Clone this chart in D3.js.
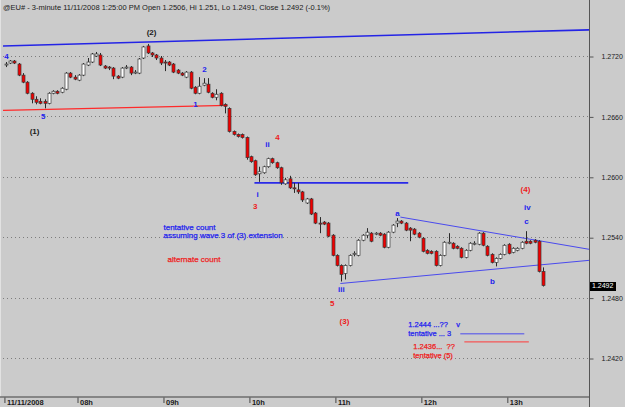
<!DOCTYPE html>
<html>
<head>
<meta charset="utf-8">
<script src="https://cdn.jsdelivr.net/npm/d3@7"></script>
<style>
  body { margin: 0; background: #cbcbcb; }
  svg { display: block; }
  text { font-family: "Liberation Sans", Arial, sans-serif; }
</style>
</head>
<body>
<svg id="chart" width="625" height="407"></svg>
<script>
// @EU# 3-minute bars, 11/11/2008 -- Elliott wave count

var tradeDate = "2008-11-11";
var firstBarTime = "07:10:00";
var barMinutes = 3;

var opens = [
  1.2711, 1.2713, 1.2715, 1.2712, 1.2701, 1.2694, 1.2683, 1.2677, 1.2675, 1.2675,
  1.2673, 1.2683, 1.2685, 1.2684, 1.2687, 1.2703, 1.2699, 1.2696, 1.2701, 1.2711,
  1.2714, 1.2720, 1.2721, 1.2710, 1.2709, 1.2708, 1.2700, 1.2699, 1.2708, 1.2709,
  1.2703, 1.2703, 1.2718, 1.2730, 1.2723, 1.2721, 1.2718, 1.2714, 1.2714, 1.2712,
  1.2706, 1.2703, 1.2699, 1.2704, 1.2689, 1.2683, 1.2691, 1.2692, 1.2683, 1.2679,
  1.2683, 1.2672, 1.2668, 1.2645, 1.2642, 1.2642, 1.2639, 1.2620, 1.2616, 1.2603,
  1.2604, 1.2610, 1.2618, 1.2614, 1.2609, 1.2593, 1.2598, 1.2589, 1.2587, 1.2585,
  1.2574, 1.2578, 1.2564, 1.2554, 1.2555, 1.2554, 1.2542, 1.2522, 1.2512, 1.2504,
  1.2512, 1.2523, 1.2522, 1.2537, 1.2542, 1.2544, 1.2543, 1.2544, 1.2543, 1.2530,
  1.2545, 1.2554, 1.2556, 1.2554, 1.2549, 1.2548, 1.2544, 1.2539, 1.2527, 1.2526,
  1.2526, 1.2512, 1.2522, 1.2534, 1.2534, 1.2531, 1.2529, 1.2520, 1.2527, 1.2533,
  1.2533, 1.2544, 1.2531, 1.2523, 1.2515, 1.2519, 1.2523, 1.2533, 1.2525, 1.2527,
  1.2529, 1.2536, 1.2536, 1.2537, 1.2536, 1.2506
];

var highs = [
  1.2714, 1.2716, 1.2716, 1.2713, 1.2703, 1.2695, 1.2684, 1.2680, 1.2678, 1.2677,
  1.2684, 1.2686, 1.2686, 1.2689, 1.2704, 1.2704, 1.2701, 1.2702, 1.2713, 1.2718,
  1.2723, 1.2724, 1.2723, 1.2711, 1.2710, 1.2709, 1.2701, 1.2709, 1.2711, 1.2710,
  1.2706, 1.2718, 1.2730, 1.2732, 1.2724, 1.2722, 1.2720, 1.2716, 1.2715, 1.2713,
  1.2707, 1.2704, 1.2705, 1.2705, 1.2690, 1.2699, 1.2698, 1.2698, 1.2684, 1.2687,
  1.2684, 1.2673, 1.2669, 1.2646, 1.2643, 1.2643, 1.2640, 1.2621, 1.2617, 1.2610,
  1.2611, 1.2619, 1.2619, 1.2615, 1.2610, 1.2599, 1.2601, 1.2594, 1.2594, 1.2586,
  1.2579, 1.2579, 1.2565, 1.2560, 1.2556, 1.2555, 1.2543, 1.2523, 1.2513, 1.2513,
  1.2523, 1.2526, 1.2538, 1.2543, 1.2549, 1.2545, 1.2545, 1.2545, 1.2544, 1.2546,
  1.2553, 1.2559, 1.2557, 1.2555, 1.2550, 1.2549, 1.2545, 1.2540, 1.2528, 1.2527,
  1.2527, 1.2523, 1.2536, 1.2544, 1.2535, 1.2532, 1.2530, 1.2528, 1.2535, 1.2536,
  1.2545, 1.2545, 1.2532, 1.2524, 1.2520, 1.2524, 1.2533, 1.2534, 1.2530, 1.2530,
  1.2536, 1.2546, 1.2537, 1.2538, 1.2537, 1.2510
];

var lows = [
  1.2709, 1.2712, 1.2712, 1.2700, 1.2693, 1.2682, 1.2673, 1.2672, 1.2672, 1.2668,
  1.2672, 1.2682, 1.2682, 1.2683, 1.2686, 1.2698, 1.2696, 1.2695, 1.2700, 1.2710,
  1.2713, 1.2719, 1.2710, 1.2707, 1.2706, 1.2697, 1.2697, 1.2698, 1.2707, 1.2701,
  1.2702, 1.2702, 1.2717, 1.2722, 1.2719, 1.2716, 1.2711, 1.2705, 1.2710, 1.2703,
  1.2702, 1.2700, 1.2698, 1.2687, 1.2682, 1.2682, 1.2690, 1.2683, 1.2678, 1.2676,
  1.2670, 1.2663, 1.2644, 1.2641, 1.2639, 1.2638, 1.2617, 1.2614, 1.2601, 1.2595,
  1.2603, 1.2609, 1.2613, 1.2608, 1.2592, 1.2592, 1.2588, 1.2584, 1.2583, 1.2575,
  1.2573, 1.2562, 1.2553, 1.2544, 1.2552, 1.2540, 1.2521, 1.2511, 1.2496, 1.2498,
  1.2511, 1.2521, 1.2521, 1.2536, 1.2539, 1.2535, 1.2542, 1.2541, 1.2529, 1.2529,
  1.2544, 1.2550, 1.2553, 1.2546, 1.2536, 1.2542, 1.2539, 1.2525, 1.2523, 1.2523,
  1.2511, 1.2511, 1.2521, 1.2533, 1.2528, 1.2528, 1.2519, 1.2519, 1.2526, 1.2532,
  1.2532, 1.2531, 1.2521, 1.2514, 1.2511, 1.2518, 1.2522, 1.2523, 1.2524, 1.2526,
  1.2528, 1.2533, 1.2533, 1.2534, 1.2505, 1.2491
];

var closes = [
  1.2712, 1.2715, 1.2713, 1.2701, 1.2694, 1.2683, 1.2677, 1.2674, 1.2673, 1.2673,
  1.2683, 1.2685, 1.2683, 1.2688, 1.2703, 1.2699, 1.2697, 1.2701, 1.2712, 1.2714,
  1.2722, 1.2722, 1.2711, 1.2708, 1.2708, 1.2700, 1.2698, 1.2708, 1.2709, 1.2703,
  1.2704, 1.2717, 1.2729, 1.2723, 1.2721, 1.2718, 1.2713, 1.2713, 1.2711, 1.2704,
  1.2703, 1.2701, 1.2704, 1.2688, 1.2683, 1.2690, 1.2693, 1.2684, 1.2679, 1.2682,
  1.2671, 1.2670, 1.2645, 1.2642, 1.2640, 1.2639, 1.2619, 1.2615, 1.2602, 1.2605,
  1.2610, 1.2618, 1.2614, 1.2609, 1.2594, 1.2597, 1.2589, 1.2588, 1.2585, 1.2577,
  1.2578, 1.2563, 1.2554, 1.2553, 1.2553, 1.2541, 1.2522, 1.2512, 1.2503, 1.2512,
  1.2522, 1.2524, 1.2537, 1.2542, 1.2545, 1.2536, 1.2544, 1.2542, 1.2530, 1.2545,
  1.2552, 1.2556, 1.2554, 1.2547, 1.2547, 1.2543, 1.2540, 1.2526, 1.2524, 1.2524,
  1.2512, 1.2522, 1.2535, 1.2535, 1.2529, 1.2529, 1.2520, 1.2527, 1.2534, 1.2534,
  1.2544, 1.2532, 1.2522, 1.2515, 1.2519, 1.2523, 1.2532, 1.2524, 1.2529, 1.2529,
  1.2535, 1.2534, 1.2534, 1.2535, 1.2506, 1.2492
];

var priceTicks = [1.2420, 1.2480, 1.2540, 1.2600, 1.2660, 1.2720];
var hourTicks = ["07:09:00", "08:00:00", "09:00:00", "10:00:00", "11:00:00", "12:00:00", "13:00:00"];
var titleText = "@EU# - 3-minute 11/11/2008 1:25:00 PM Open 1.2506, Hi 1.251, Lo 1.2491, Close 1.2492 (-0.1%)";

// trend lines: [time, price] -> [time, price]
var upperChannel = [["07:08:00", 1.2730], ["13:57:00", 1.2746]];
var lowerChannel = [["07:08:00", 1.2666], ["09:44:40", 1.2671]];
var waveOneLine = [["10:03:30", 1.2594], ["11:50:50", 1.2594]];
var triangleTop = [["11:45:20", 1.2560], ["13:57:00", 1.2528]];
var triangleBottom = [["11:03:30", 1.2494], ["13:57:00", 1.2517]];
var targetBlue = [["12:27:10", 1.2444], ["13:11:50", 1.2444]];
var targetRed = [["12:30:00", 1.2436], ["13:15:00", 1.2436]];

// wave labels: [text, time, price]
var blueMarks = [
  ["4", "07:10:30", 1.2720], ["5", "07:36:00", 1.2660], ["2", "09:28:40", 1.2707],
  ["1", "09:22:20", 1.2672], ["ii", "10:12:40", 1.2632], ["i", "10:05:40", 1.2583],
  ["a", "11:43:20", 1.2564], ["iv", "13:14:00", 1.2570], ["c", "13:13:20", 1.2556],
  ["iii", "11:04:10", 1.2488], ["b", "12:49:40", 1.2496]
];
var redMarks = [
  ["4", "10:19:30", 1.2639], ["3", "10:04:00", 1.2571], ["(4)", "13:12:40", 1.2588],
  ["5", "10:57:50", 1.2474], ["(3)", "11:06:20", 1.2457]
];
var darkMarks = [["(1)", "07:30:00", 1.2645], ["(2)", "08:51:40", 1.2744]];

var blueNotes = [
  ["tentative count", "09:00:00", 1.2550],
  ["assuming wave 3 of (3) extension", "09:00:00", 1.2542]
];
var blueTargetNotes = [
  ["1.2444 ...??    v", "11:50:50", 1.2453],
  ["tentative ... 3", "11:50:50", 1.2444]
];
var redNotes = [
  ["alternate count", "09:02:50", 1.2518]
];
var redTargetNotes = [
  ["1.2436...  ??", "11:54:20", 1.2432],
  ["tentative (5)", "11:54:20", 1.2423]
];

///////////////////////////////////////////////////////////////////////////////
// scales

var parseTime = d3.timeParse("%Y-%m-%d %H:%M:%S");
var at = function (s) { return parseTime(tradeDate + " " + s); };

var plotLeft = 3, plotRight = 589, axisY = 397;
var BLUE = "#2222ee", RED = "#ee1c1c", DARK = "#1a1a1a";

var x = d3.scaleTime()
  .domain([at("07:08:00"), at("13:57:00")])
  .range([plotLeft, plotRight]);

var y = d3.scaleLinear()
  .domain([1.2420, 1.2720])
  .range([358, 56]);

var bars = opens.map(function (o, i) {
  return {
    t: d3.timeMinute.offset(at(firstBarTime), i * barMinutes),
    o: o, h: highs[i], l: lows[i], c: closes[i]
  };
});

var svg = d3.select("#chart");

svg.append("rect").attr("width", 625).attr("height", 407).attr("fill", "#cbcbcb");
svg.append("line")
  .attr("x1", 0.5).attr("x2", 0.5).attr("y1", 0).attr("y2", axisY)
  .attr("stroke", "#e2e2e2");

///////////////////////////////////////////////////////////////////////////////
// grid + axes

svg.append("g").selectAll("line")
  .data(priceTicks)
  .join("line")
  .attr("x1", plotLeft).attr("x2", plotRight)
  .attr("y1", function (d) { return Math.round(y(d)) + 0.5; })
  .attr("y2", function (d) { return Math.round(y(d)) + 0.5; })
  .attr("stroke", "#7d7d7d")
  .attr("stroke-dasharray", "1,3");

var yAxis = svg.append("g")
  .attr("transform", "translate(" + (plotRight + 0.5) + ",0.5)")
  .call(d3.axisRight(y).tickValues(priceTicks).tickSize(4).tickPadding(8)
    .tickFormat(d3.format(".4f")));
yAxis.select(".domain").remove();
yAxis.selectAll("line").attr("stroke", "#555");
yAxis.selectAll("text").attr("font-size", 7).attr("fill", DARK)
  .attr("font-family", "Liberation Sans, Arial, sans-serif");

var xAxis = svg.append("g")
  .attr("transform", "translate(0," + axisY + ")")
  .call(d3.axisBottom(x).tickValues(hourTicks.map(at)).tickSize(6)
    .tickFormat(function (d) {
      return d.getMinutes() ? d3.timeFormat("%m/%d/%Y")(d) : d3.timeFormat("%Hh")(d);
    }));
xAxis.select(".domain").remove();
xAxis.selectAll("line").attr("stroke", "#444");
xAxis.selectAll("text")
  .attr("text-anchor", "start").attr("x", 2).attr("y", 8).attr("dy", 0)
  .attr("font-size", 7.5).attr("font-weight", "bold").attr("fill", DARK)
  .attr("font-family", "Liberation Sans, Arial, sans-serif");

svg.append("line")
  .attr("x1", 0).attr("x2", plotRight).attr("y1", axisY).attr("y2", axisY)
  .attr("stroke", "#6e6e6e").attr("stroke-width", 1.5);
svg.append("line")
  .attr("x1", plotRight + 0.5).attr("x2", plotRight + 0.5).attr("y1", 0).attr("y2", 407)
  .attr("stroke", "#555");

///////////////////////////////////////////////////////////////////////////////
// trend lines

var drawLine = function (pts, color, width) {
  svg.append("line")
    .attr("x1", x(at(pts[0][0]))).attr("y1", y(pts[0][1]))
    .attr("x2", x(at(pts[1][0]))).attr("y2", y(pts[1][1]))
    .attr("stroke", color).attr("stroke-width", width);
};

drawLine(upperChannel, "#2424e6", 1.6);
drawLine(lowerChannel, "#ff2a2a", 1.4);
drawLine(waveOneLine, "#2a2ae8", 1.8);
drawLine(triangleTop, "#4a4aee", 1);
drawLine(triangleBottom, "#4a4aee", 1);
drawLine(targetBlue, "#4a4aee", 1);
drawLine(targetRed, "#ff3a3a", 1);

///////////////////////////////////////////////////////////////////////////////
// candles

var candles = svg.append("g");

candles.selectAll("line")
  .data(bars)
  .join("line")
  .attr("x1", function (d) { return Math.round(x(d.t)) + 0.5; })
  .attr("x2", function (d) { return Math.round(x(d.t)) + 0.5; })
  .attr("y1", function (d) { return y(d.h); })
  .attr("y2", function (d) { return y(d.l); })
  .attr("stroke", "#2a2a2a");

candles.selectAll("rect")
  .data(bars)
  .join("rect")
  .attr("x", function (d) { return Math.round(x(d.t)) - 1; })
  .attr("width", 3)
  .attr("y", function (d) { return y(Math.max(d.o, d.c)); })
  .attr("height", function (d) { return Math.max(1, Math.abs(y(d.o) - y(d.c))); })
  .attr("fill", function (d) { return d.c >= d.o ? "#ffffff" : "#f00000"; })
  .attr("stroke", "#3a3a3a")
  .attr("stroke-width", 0.7);

///////////////////////////////////////////////////////////////////////////////
// labels

var drawMarks = function (list, color, anchor, size, bold) {
  svg.append("g").selectAll("text")
    .data(list)
    .join("text")
    .attr("x", function (d) { return x(at(d[1])); })
    .attr("y", function (d) { return y(d[2]); })
    .attr("dy", "0.35em")
    .attr("text-anchor", anchor)
    .attr("font-size", size)
    .attr("font-weight", bold ? "bold" : "normal")
    .attr("fill", color)
    .attr("stroke", bold ? "none" : color)
    .attr("stroke-width", 0.25)
    .style("white-space", "pre")
    .text(function (d) { return d[0]; });
};

drawMarks(blueMarks, BLUE, "middle", 8, true);
drawMarks(redMarks, RED, "middle", 8, true);
drawMarks(darkMarks, DARK, "middle", 8, true);
drawMarks(blueNotes, BLUE, "start", 8, false);
drawMarks(redNotes, RED, "start", 8, false);
drawMarks(blueTargetNotes, BLUE, "start", 7.5, false);
drawMarks(redTargetNotes, RED, "start", 7.5, false);

svg.append("text")
  .attr("x", 3).attr("y", 10)
  .attr("font-size", 7.5)
  .attr("fill", DARK)
  .text(titleText);

// last price tag
var last = bars[bars.length - 1];
svg.append("rect")
  .attr("x", plotRight + 1).attr("y", Math.round(y(last.c)) - 4)
  .attr("width", 26).attr("height", 9)
  .attr("fill", "#000");
svg.append("text")
  .attr("x", plotRight + 3).attr("y", y(last.c))
  .attr("dy", "0.35em")
  .attr("font-size", 7).attr("fill", "#fff")
  .text(d3.format(".4f")(last.c));
</script>
</body>
</html>
